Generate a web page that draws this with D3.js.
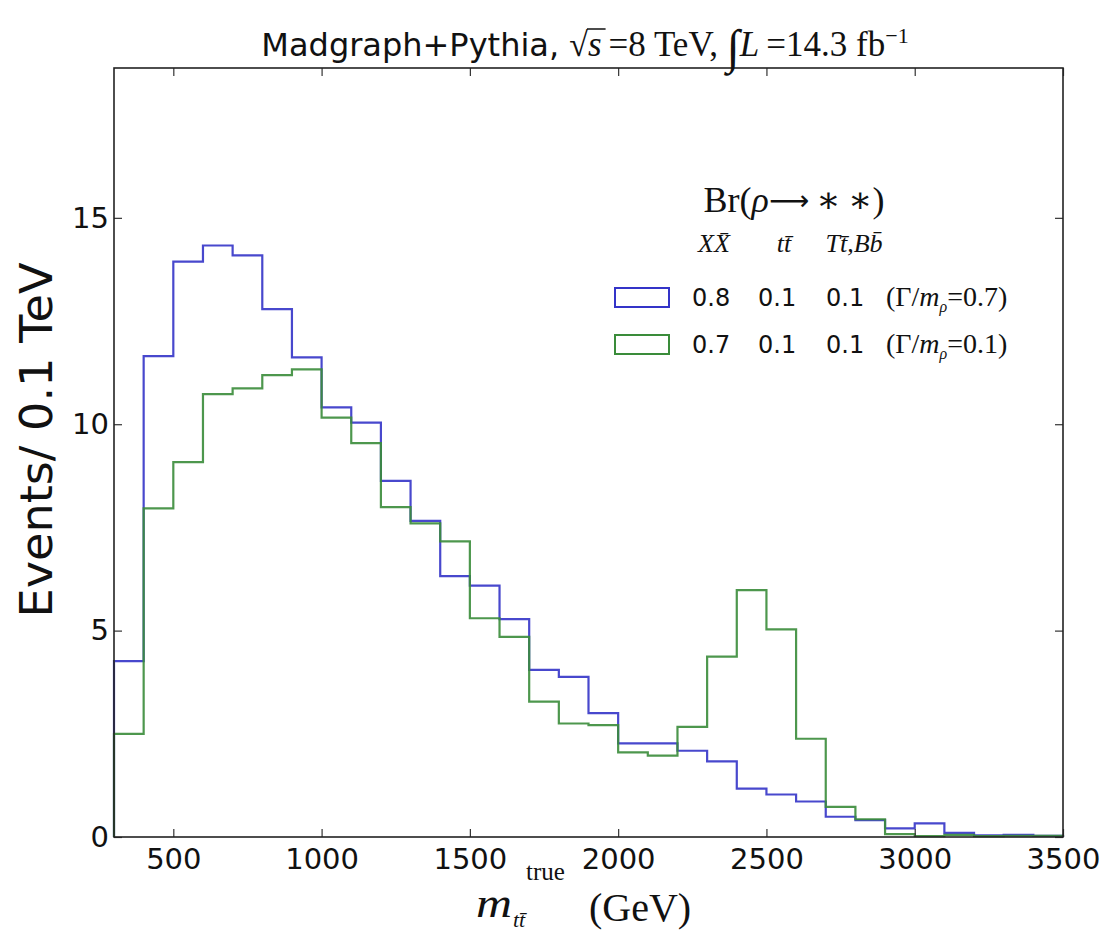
<!DOCTYPE html>
<html>
<head>
<meta charset="utf-8">
<script src="https://cdnjs.cloudflare.com/ajax/libs/d3/7.8.5/d3.min.js"></script>
<style>
  body { margin: 0; background: #fff; }
  svg { display: block; }
  .serif { font-family: 'Liberation Serif', 'DejaVu Serif', serif; }
  .sans { font-family: 'DejaVu Sans', sans-serif; }
</style>
</head>
<body>
<div id="chart"></div>
<script>
// bin edges in GeV (100 GeV bins)
var binEdges = [300, 400, 500, 600, 700, 800, 900, 1000, 1100, 1200, 1300, 1400, 1500, 1600,
  1700, 1800, 1900, 2000, 2100, 2200, 2300, 2400, 2500, 2600, 2700, 2800, 2900, 3000,
  3100, 3200, 3300, 3400, 3500]

// Br 0.8 / 0.1 / 0.1, width 0.7
var blueCounts = [4.26, 11.65, 13.94, 14.33, 14.09, 12.79, 11.62, 10.41, 10.04, 8.63, 7.66,
  6.32, 6.09, 5.28, 4.05, 3.88, 3.00, 2.27, 2.27, 2.09, 1.83, 1.17, 1.03, 0.86, 0.49,
  0.41, 0.21, 0.33, 0.10, 0.04, 0.05, 0.03]

// Br 0.7 / 0.1 / 0.1, width 0.1
var greenCounts = [2.50, 7.96, 9.08, 10.73, 10.87, 11.19, 11.33, 10.16, 9.54, 7.99, 7.60,
  7.16, 5.30, 4.85, 3.28, 2.75, 2.71, 2.05, 1.97, 2.67, 4.37, 5.98, 5.03, 2.38, 0.73,
  0.43, 0.07, 0.02, 0.05, 0.02, 0.03, 0.03]

var xTicks = [500, 1000, 1500, 2000, 2500, 3000, 3500]
var yTicks = [0, 5, 10, 15]

var brXX = ['0.8', '0.7']
var brTT = ['0.1', '0.1']
var brTB = ['0.1', '0.1']
var widthRatio = ['0.7', '0.1']
var colors = ['#3434c8', '#3a8c3a']

var W = 1109, H = 933
var mLeft = 114, mRight = 1063, mTop = 68, mBottom = 837

var svg = d3.select('#chart')
  .append('svg')
  .attr('width', W)
  .attr('height', H)

var x = d3.scaleLinear().domain([300, 3500]).range([mLeft, mRight])
var y = d3.scaleLinear().domain([0, 18.63]).range([mBottom, mTop])

function stepPath(counts) {
  var pts = [[binEdges[0], 0]]
  counts.forEach(function(c, i) {
    pts.push([binEdges[i], c])
    pts.push([binEdges[i + 1], c])
  })
  pts.push([binEdges[binEdges.length - 1], 0])
  return d3.line().x(d => x(d[0])).y(d => y(d[1]))(pts)
}

svg.selectAll('path.hist')
  .data([blueCounts, greenCounts])
  .enter()
  .append('path')
  .attr('class', 'hist')
  .attr('d', d => stepPath(d))
  .attr('fill', 'none')
  .attr('stroke', (d, i) => colors[i])
  .attr('stroke-width', 2.2)
  .attr('stroke-opacity', 0.9)

// axes, ticks pointing inward on all four sides
function styleAxis(g) {
  g.select('.domain').remove()
  g.selectAll('.tick line').attr('stroke', '#333').attr('stroke-width', 1.2)
  g.selectAll('.tick text')
    .attr('font-family', "'DejaVu Sans', sans-serif")
    .attr('font-size', 29)
    .attr('fill', '#111')
}

svg.append('g')
  .attr('transform', 'translate(0,' + mBottom + ')')
  .call(d3.axisBottom(x).tickValues(xTicks).tickFormat(d3.format('d'))
    .tickSizeInner(-8).tickSizeOuter(0).tickPadding(11))
  .call(styleAxis)

svg.append('g')
  .attr('transform', 'translate(0,' + mTop + ')')
  .call(d3.axisTop(x).tickValues(xTicks).tickSizeInner(-8).tickSizeOuter(0).tickFormat(''))
  .call(styleAxis)

svg.append('g')
  .attr('transform', 'translate(' + mLeft + ',0)')
  .call(d3.axisLeft(y).tickValues(yTicks).tickFormat(d3.format('d'))
    .tickSizeInner(-8).tickSizeOuter(0).tickPadding(5))
  .call(styleAxis)

svg.append('g')
  .attr('transform', 'translate(' + mRight + ',0)')
  .call(d3.axisRight(y).tickValues(yTicks).tickSizeInner(-8).tickSizeOuter(0).tickFormat(''))
  .call(styleAxis)

svg.append('rect')
  .attr('x', mLeft)
  .attr('y', mTop)
  .attr('width', mRight - mLeft)
  .attr('height', mBottom - mTop)
  .attr('fill', 'none')
  .attr('stroke', '#222')
  .attr('stroke-width', 1.6)

// title
var title = svg.append('text')
  .attr('x', 585)
  .attr('y', 56)
  .attr('text-anchor', 'middle')
  .attr('fill', '#111')
title.append('tspan').attr('class', 'sans').attr('font-size', 32).text('Madgraph+Pythia, ')
title.append('tspan').attr('class', 'serif').attr('font-size', 34).text('\u221A')
var sTsp = title.append('tspan').attr('class', 'serif').attr('font-size', 35).attr('font-style', 'italic')
  .text('s\u2009')
title.append('tspan').attr('class', 'serif').attr('font-size', 35).text('=8 TeV,  ')
title.append('tspan').attr('class', 'serif').attr('font-size', 48).attr('dy', 7).text('\u222B')
title.append('tspan').attr('class', 'serif').attr('font-size', 35).attr('font-style', 'italic')
  .attr('dy', -7).text('L\u2009')
title.append('tspan').attr('class', 'serif').attr('font-size', 35).text('=14.3 fb')
title.append('tspan').attr('class', 'serif').attr('font-size', 22).attr('dy', -13).text('\u22121')

// vinculum of the square root over s
var sBox = sTsp.node().getBBox()
svg.append('line')
  .attr('x1', sBox.x - 1).attr('x2', sBox.x + sBox.width - 3)
  .attr('y1', sBox.y + 4).attr('y2', sBox.y + 4)
  .attr('stroke', '#111').attr('stroke-width', 1.5)

// y label
svg.append('text')
  .attr('class', 'sans')
  .attr('transform', 'translate(52,440) rotate(-90)')
  .attr('text-anchor', 'middle')
  .attr('font-size', 45)
  .attr('textLength', 355)
  .attr('lengthAdjust', 'spacingAndGlyphs')
  .attr('fill', '#111')
  .text('Events/ 0.1 TeV')

// x label
var xl = svg.append('g').attr('class', 'serif').attr('fill', '#111')
xl.append('text').attr('x', 476).attr('y', 917).attr('font-size', 42).attr('font-style', 'italic')
  .attr('textLength', 36).attr('lengthAdjust', 'spacingAndGlyphs').text('m')
xl.append('text').attr('x', 513).attr('y', 927).attr('font-size', 22).attr('font-style', 'italic')
  .text('t\u0074\u0304')
xl.append('text').attr('x', 526).attr('y', 880).attr('font-size', 25).text('true')
xl.append('text').attr('x', 589).attr('y', 921).attr('font-size', 40).text('(GeV)')

// legend
var lg = svg.append('g').attr('fill', '#111')
var hd = lg.append('text').attr('class', 'serif').attr('x', 794).attr('y', 212)
  .attr('text-anchor', 'middle').attr('font-size', 36)
hd.append('tspan').text('Br(')
hd.append('tspan').attr('font-style', 'italic').text('\u03C1')
hd.append('tspan').attr('font-family', "'DejaVu Sans', sans-serif").attr('font-size', 28)
  .attr('dy', -2).text('\u27F6')
hd.append('tspan').attr('dy', 2).text('\u2009\u2217\u2009\u2217)')

var heads = [['X\u0058\u0304', 714], ['t\u0074\u0304', 784], ['T\u0074\u0304,B\u0062\u0304', 854]]
lg.selectAll('text.head')
  .data(heads)
  .enter()
  .append('text')
  .attr('class', 'serif head')
  .attr('x', d => d[1])
  .attr('y', 252)
  .attr('text-anchor', 'middle')
  .attr('font-size', 26)
  .attr('font-style', 'italic')
  .text(d => d[0])

var rows = lg.selectAll('g.row')
  .data(brXX)
  .enter()
  .append('g')
  .attr('class', 'row')
  .attr('transform', (d, i) => 'translate(0,' + (i * 47) + ')')

rows.append('rect')
  .attr('x', 615)
  .attr('y', 288)
  .attr('width', 54)
  .attr('height', 19)
  .attr('fill', 'none')
  .attr('stroke', (d, i) => colors[i])
  .attr('stroke-width', 2)

rows.append('text').attr('class', 'sans').attr('x', 692).attr('y', 306).attr('font-size', 24)
  .text(d => d)
rows.append('text').attr('class', 'sans').attr('x', 758).attr('y', 306).attr('font-size', 24)
  .text((d, i) => brTT[i])
rows.append('text').attr('class', 'sans').attr('x', 826).attr('y', 306).attr('font-size', 24)
  .text((d, i) => brTB[i])

var wt = rows.append('text').attr('class', 'serif').attr('x', 886).attr('y', 306).attr('font-size', 28)
wt.append('tspan').text('(\u0393/')
wt.append('tspan').attr('font-style', 'italic').text('m')
wt.append('tspan').attr('font-style', 'italic').attr('font-size', 16).attr('dy', 6).text('\u03C1')
wt.append('tspan').attr('dy', -6).text((d, i) => '=' + widthRatio[i] + ')')
</script>
</body>
</html>
